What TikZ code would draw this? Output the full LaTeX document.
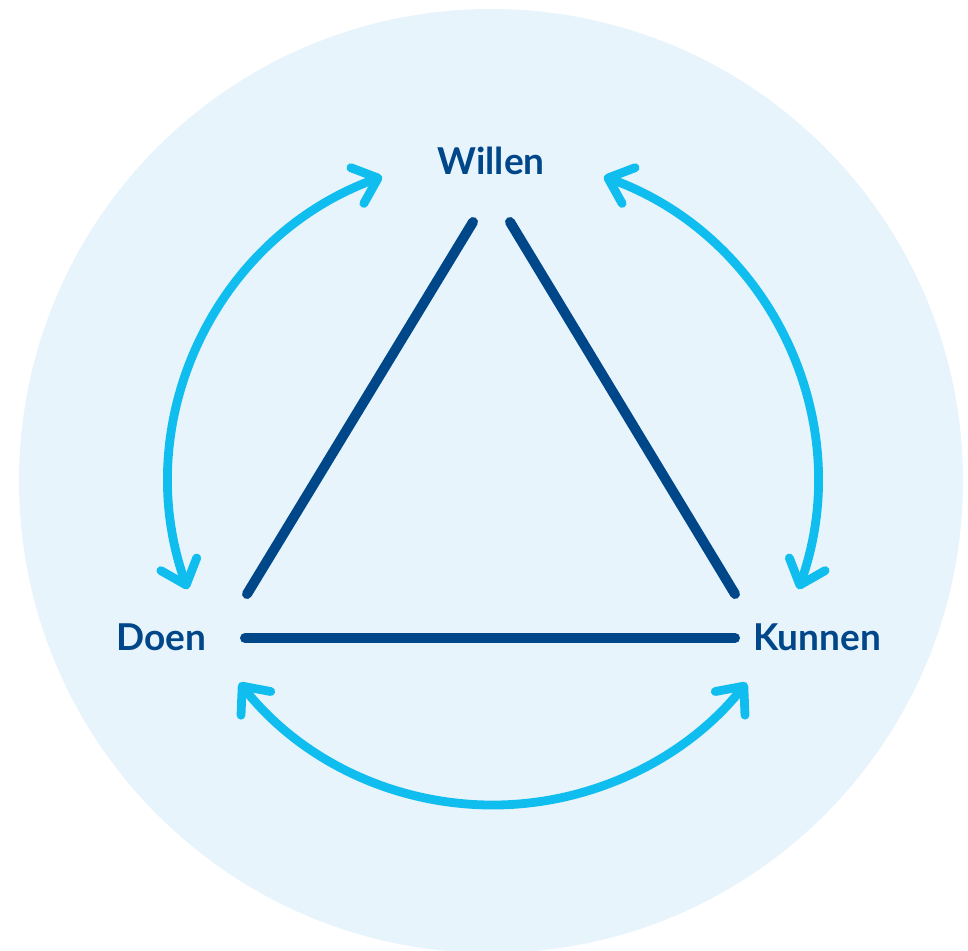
\documentclass[tikz,border=0pt]{standalone}
\usepackage{fontspec}
\setmainfont{Lato}
\usetikzlibrary{arrows.meta}
\definecolor{bgblue}{HTML}{E8F4FC}
\definecolor{navy}{HTML}{00478A}
\definecolor{sky}{HTML}{10BDEF}

\begin{document}
\begin{tikzpicture}[x=0.5pt, y=0.5pt,
		>={Straight Barb[length=11pt, width=19pt, round]},
		side/.style={navy, line width=5pt, line cap=round},
		cycle arrow/.style={sky, line width=4.4pt, line cap=round, <->},
		word/.style={navy, font=\bfseries\fontsize{18.5}{22}\selectfont}]
		\useasboundingbox (0,0) rectangle (968,-950);
		\clip (0,0) rectangle (968,-950);
		\fill[bgblue] (491,-481) circle[radius=472];

		\node[word] (willen) at (491,-161) {Willen};
		\node[word] (doen) at (161,-637) {Doen};
		\node[word] (kunnen) at (817,-637) {Kunnen};

		% triangle corners
		\coordinate (wl) at (473,-222);
		\coordinate (wr) at (510,-222);
		\coordinate (dl) at (247,-594);
		\coordinate (kr) at (735,-594);
		\coordinate (db) at (245,-638);
		\coordinate (kb) at (735,-638);

		\draw[side] (wl) -- (dl);
		\draw[side] (wr) -- (kr);
		\draw[side] (db) -- (kb);

		% arrows round the triangle
		\coordinate (hub) at (493,-481);
		\path (hub) ++(110:324) coordinate (wa);
		\path (hub) ++(70:324) coordinate (wb);
		\path (hub) ++(218.5:324) coordinate (da);
		\path (hub) ++(-19.5:324) coordinate (kc);

		\draw[cycle arrow] (wa) arc[start angle=110, end angle=199.5, radius=324];
		\draw[cycle arrow] (wb) arc[start angle=70, end angle=-19.5, radius=324];
		\draw[cycle arrow] (da) arc[start angle=218.5, end angle=321.5, radius=324];
	\end{tikzpicture}
\end{document}
